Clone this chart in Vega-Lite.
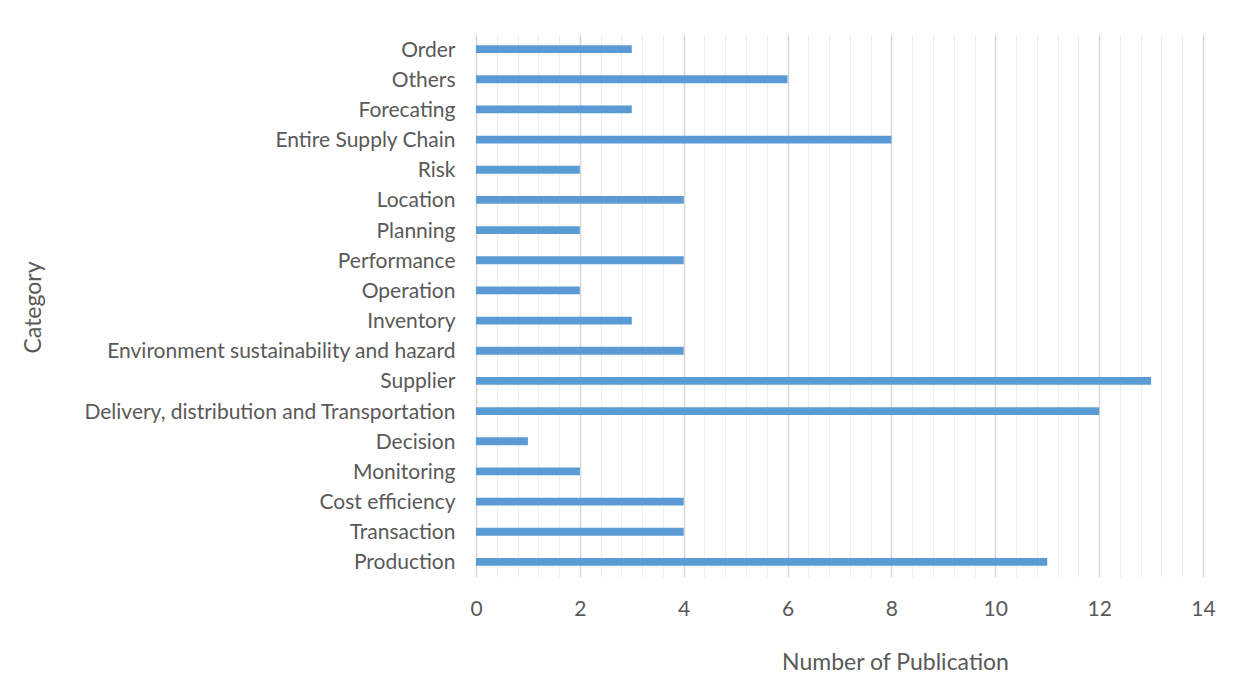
{
  "$schema": "https://vega.github.io/schema/vega-lite/v6.json",
  "autosize": "none",
  "width": 727,
  "height": 543,
  "padding": {"left": 476, "top": 34, "right": 30, "bottom": 107},
  "background": "white",
  "config": {"view": {"stroke": null}, "font": "Lato"},
  "data": {"values": [
    {"category": "Order", "count": 3},
    {"category": "Others", "count": 6},
    {"category": "Forecating", "count": 3},
    {"category": "Entire Supply Chain", "count": 8},
    {"category": "Risk", "count": 2},
    {"category": "Location", "count": 4},
    {"category": "Planning", "count": 2},
    {"category": "Performance", "count": 4},
    {"category": "Operation", "count": 2},
    {"category": "Inventory", "count": 3},
    {"category": "Environment sustainability and hazard", "count": 4},
    {"category": "Supplier", "count": 13},
    {"category": "Delivery, distribution and Transportation", "count": 12},
    {"category": "Decision", "count": 1},
    {"category": "Monitoring", "count": 2},
    {"category": "Cost efficiency", "count": 4},
    {"category": "Transaction", "count": 4},
    {"category": "Production", "count": 11}
  ]},
  "mark": {"type": "bar", "color": "#5B9BD5"},
  "encoding": {
    "y": {
      "field": "category", "type": "nominal", "sort": null,
      "scale": {"paddingInner": 0.74, "paddingOuter": 0.37},
      "axis": {
        "title": "Category", "domain": false, "ticks": false, "tickSize": 0,
        "labelPadding": 21, "labelFontSize": 21, "labelColor": "#595959", "labelFont": "Lato", "labelLimit": 0, "labelOffset": 1.5,
        "titleFontSize": 23, "titleColor": "#595959", "titleFont": "Lato", "titleFontWeight": "normal",
        "titleAngle": -90, "titleX": -443, "titleY": 273, "titleAlign": "center", "titleBaseline": "middle"
      }
    },
    "x": {
      "field": "count", "type": "quantitative",
      "scale": {"domain": [0, 14], "nice": false},
      "axis": {
        "title": "Number of Publication",
        "values": [0, 0.4, 0.8, 1.2, 1.6, 2, 2.4, 2.8, 3.2, 3.6, 4, 4.4, 4.8, 5.2, 5.6, 6, 6.4, 6.8, 7.2, 7.6, 8, 8.4, 8.8, 9.2, 9.6, 10, 10.4, 10.8, 11.2, 11.6, 12, 12.4, 12.8, 13.2, 13.6, 14],
        "labelExpr": "abs(datum.value - round(datum.value / 2) * 2) < 0.01 ? format(datum.value, 'd') : ''",
        "labelOverlap": false,
        "labelFlush": false,
        "grid": true,
        "gridColor": {"condition": {"test": "abs(datum.value - round(datum.value / 2) * 2) < 0.01", "value": "#D6D6D6"}, "value": "#EFEFEF"},
        "gridWidth": {"condition": {"test": "abs(datum.value - round(datum.value / 2) * 2) < 0.01", "value": 1.5}, "value": 1.2},
        "domain": false, "ticks": false, "tickSize": 0,
        "labelPadding": 21, "labelFontSize": 21, "labelColor": "#595959", "labelFont": "Lato",
        "titleFontSize": 23, "titleColor": "#595959", "titleFont": "Lato", "titleFontWeight": "normal",
        "titleX": 419, "titleY": 85, "titleAnchor": null, "titleAlign": "center", "titleBaseline": "middle"
      }
    }
  }
}
